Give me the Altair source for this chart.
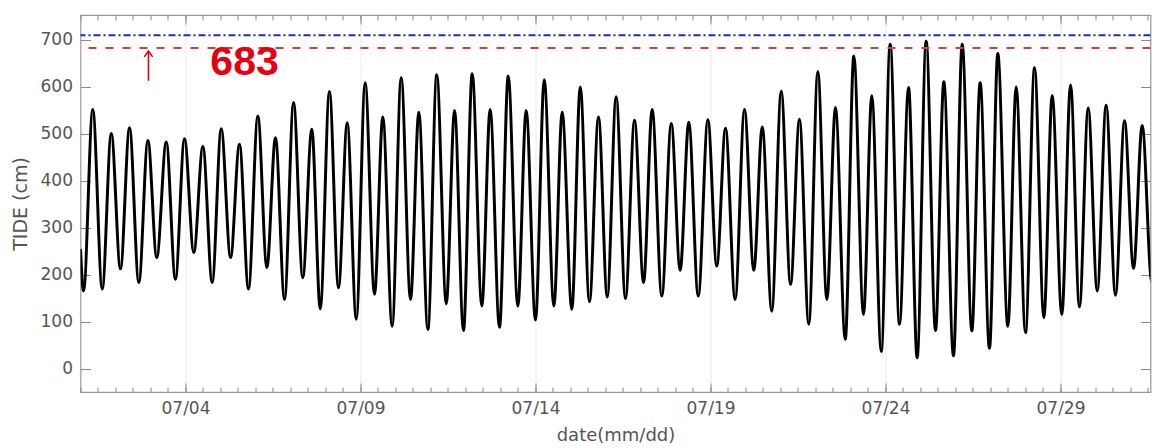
import altair as alt
import pandas as pd

START = "2023-07-01 00:00"

# hours since 07/01 00:00 of each turning point, and tide (cm) at that point
hours = [0, 2.1, 8.4, 14.9, 21.1, 27.4, 33.6, 40.0, 46.2, 52.3, 58.8, 65.1, 71.3, 77.7,
         83.9, 90.3, 96.5, 102.9, 109.0, 115.2, 121.6, 127.8, 133.7, 139.9, 146.1, 152.4,
         158.6, 164.4, 170.7, 176.9, 182.9, 189.1, 195.2, 201.6, 207.3, 213.7, 219.9, 226.3,
         232.0, 238.2, 244.3, 250.8, 256.5, 262.6, 268.6, 275.2, 280.9, 287.3, 293.3, 299.9,
         305.6, 312.0, 318.0, 324.6, 330.3, 336.9, 342.7, 349.0, 355.2, 361.2, 367.3, 373.7,
         379.9, 386.1, 392.0, 398.6, 405.1, 411.2, 417.1, 423.6, 430.2, 436.3, 442.3, 448.9,
         455.3, 461.7, 467.5, 474.0, 480.5, 486.9, 493.0, 499.4, 505.6, 511.8, 517.7, 524.4,
         530.3, 536.9, 542.6, 549.1, 555.2, 561.6, 567.8, 573.7, 579.9, 586.3, 592.0, 598.6,
         604.6, 611.2, 616.9, 623.3, 629.0, 635.9, 641.6, 648.0, 654.2, 660.6, 666.3, 672.9,
         678.9, 685.0, 691.0, 697.2, 703.3, 709.7, 715.9, 722.1, 728.0, 734.6, 740.6]
tide = [255, 166, 552, 170, 501, 213, 513, 184, 486, 237, 483, 191, 490, 248,
        473, 184, 511, 237, 478, 170, 538, 216, 492, 148, 567, 194,
        510, 128, 590, 173, 524, 106, 609, 159, 536, 91, 620, 148,
        546, 84, 626, 139, 550, 82, 628, 134, 552, 89, 623, 134,
        550, 104, 615, 134, 546, 127, 600, 143, 536, 153, 579, 150,
        529, 184, 552, 155, 522, 210, 525, 155, 530, 219, 512, 148,
        552, 210, 515, 123, 591, 180, 531, 95, 633, 148, 556, 63,
        666, 116, 581, 37, 691, 95, 599, 24, 697, 82, 611, 28,
        691, 81, 609, 44, 671, 91, 600, 77, 641, 109, 582, 116,
        604, 132, 555, 166, 561, 157, 528, 214, 518, 186, 505]

warn_level = [683]
max_level = [710]
y_ticks = [0, 100, 200, 300, 400, 500, 600, 700]
major_days = [4, 9, 14, 19, 24, 29]

label_text = ["683"]
label_hours = [112.5]
label_value = [650]
arrow_hours = [46.6]
arrow_from = [613]
arrow_to = [676]
arrow_head = [671]

t0 = pd.Timestamp(START)
df = pd.DataFrame({"time": t0 + pd.to_timedelta(hours, unit="h"), "tide": tide})
lab = pd.DataFrame({"time": t0 + pd.to_timedelta(label_hours, unit="h"),
                    "v": label_value, "txt": label_text})
arr = pd.DataFrame({"time": t0 + pd.to_timedelta(arrow_hours, unit="h"),
                    "v1": arrow_from, "v2": arrow_to, "vh": arrow_head})

major = [alt.DateTime(year=2023, month=7, date=d) for d in major_days]
minor = [alt.DateTime(year=2023, month=7, date=d, hours=h)
         for d in range(1, 32) for h in (0, 12)]

xs = alt.Scale(domain=[alt.DateTime(year=2023, month=7, date=1),
                       alt.DateTime(year=2023, month=7, date=31, hours=13, minutes=43)],
               nice=False)
ys = alt.Scale(domain=[-49, 753], nice=False, zero=False)

TICK = "#8a8a8a"

line = alt.Chart(df).mark_line(color="black", strokeWidth=3, interpolate="monotone",
                               clip=True).encode(
    x=alt.X("time:T", scale=xs,
            axis=alt.Axis(orient="bottom", values=major, format="%m/%d", offset=-9,
                          tickSize=9, labelPadding=8, domain=False, grid=True,
                          gridColor="#ececec", title="date(mm/dd)", titlePadding=10,
                          titleFontSize=18)),
    y=alt.Y("tide:Q", scale=ys,
            axis=alt.Axis(orient="left", values=y_ticks, offset=-10, tickSize=10,
                          labelPadding=8, domain=False, grid=False,
                          title="TIDE (cm)", titlePadding=10, titleFontSize=19)),
)

ghost = alt.Chart(df).mark_line(opacity=0, clip=True)
g1 = ghost.encode(
    x=alt.X("time:T", axis=alt.Axis(orient="bottom", values=minor, offset=-5, tickSize=5,
                                    labels=False, domain=False, grid=False, title=None)),
    y=alt.Y("tide:Q", axis=alt.Axis(orient="right", values=y_ticks, offset=-10, tickSize=10,
                                    labels=False, domain=False, grid=False, title=None)),
)
g2 = ghost.encode(
    x=alt.X("time:T", axis=alt.Axis(orient="top", values=major, offset=-9, tickSize=9,
                                    labels=False, domain=False, grid=False, title=None)),
    y=alt.Y("tide:Q", axis=None),
)
g3 = ghost.encode(
    x=alt.X("time:T", axis=alt.Axis(orient="top", values=minor, offset=-5, tickSize=5,
                                    labels=False, domain=False, grid=False, title=None)),
    y=alt.Y("tide:Q", axis=None),
)

red_line = alt.Chart(pd.DataFrame({"lv": warn_level})).mark_rule(
    color="#cf3f3f", strokeWidth=2, strokeDash=[8, 9]).encode(
    y=alt.Y("lv:Q", axis=None))
blue_line = alt.Chart(pd.DataFrame({"lv": max_level})).mark_rule(
    color="#2626c8", strokeWidth=2, strokeDash=[7, 3, 2, 3]).encode(
    y=alt.Y("lv:Q", axis=None))

txt = alt.Chart(lab).mark_text(
    color="#e60012", fontSize=41, fontWeight="bold",
    font="Liberation Sans Narrow, Liberation Sans",
    baseline="middle", align="center").encode(
    x=alt.X("time:T", axis=None), y=alt.Y("v:Q", axis=None), text="txt:N")

arrow_stem = alt.Chart(arr).mark_rule(color="#e60012", strokeWidth=1.6).encode(
    x=alt.X("time:T", axis=None), y=alt.Y("v1:Q", axis=None), y2="v2:Q")
arrow_tip = alt.Chart(arr).mark_point(
    shape="M-1,0.8L0,-0.6L1,0.8", size=70, filled=False, color="#e60012",
    strokeWidth=1.6, opacity=1).encode(
    x=alt.X("time:T", axis=None), y=alt.Y("vh:Q", axis=None))

chart = alt.layer(line, g1, g2, g3, blue_line, red_line, arrow_stem, arrow_tip, txt).resolve_axis(
    x="independent", y="independent"
).resolve_scale(x="shared", y="shared").properties(
    width=1070, height=377,
    padding={"left": 2.5, "top": 6, "right": 0, "bottom": 0},
    background="white",
).configure_view(
    stroke="#9a9a9a", strokeWidth=1.2
).configure_axis(
    labelFont="DejaVu Sans", labelFontSize=17, labelColor="#555555",
    titleFont="DejaVu Sans", titleFontSize=17, titleColor="#555555",
    titleFontWeight="normal", tickColor=TICK, tickWidth=1,
)

chart.save("out.html", embed_options={"renderer": "svg", "actions": False})
